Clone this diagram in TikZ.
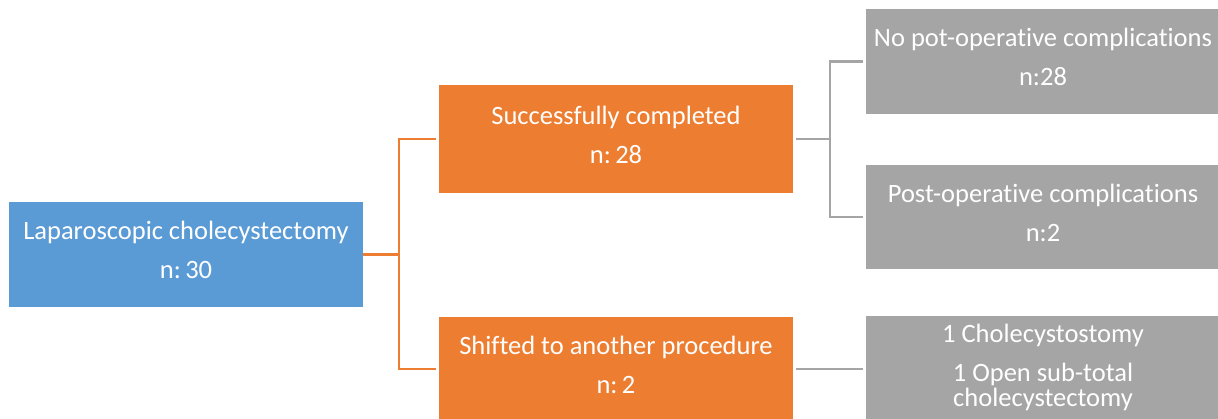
\documentclass[tikz,border=0pt]{standalone}
\usepackage{fontspec}
\setmainfont{Carlito}[Ligatures={NoCommon,NoRare}]
\definecolor{lapblue}{HTML}{5B9BD5}
\definecolor{outorange}{HTML}{ED7D31}
\definecolor{detgray}{HTML}{A5A5A5}
\tikzset{
  box/.style={minimum width=354pt,inner sep=0pt,text=white,align=center,
    text depth=9pt,font=\fontsize{26.5}{39}\selectfont},
  orangeline/.style={draw=outorange,line width=2.5pt},
  grayline/.style={draw=detgray,line width=2.5pt}
}
\begin{document}
\begin{tikzpicture}[x=1pt,y=-1pt]
\useasboundingbox (0,0) rectangle (1218,419);
%Root
\node[box,fill=lapblue,minimum height=105pt] (lap) at (186,254.5)
  {Laparoscopic cholecystectomy\\n:\,30};

%Outcomes
\node[box,fill=outorange,minimum height=108pt] (succ) at (616,139)
  {Successfully completed\\n:\,28};
\node[box,fill=outorange,minimum height=104pt] (shift) at (616,369)
  {Shifted to another procedure\\n:\,2};

\coordinate (split1) at (399,254.5);
\draw[orangeline] (lap.east) -- (split1);
\draw[orangeline,shorten >=3pt] (split1) |- (succ.west);
\draw[orangeline,shorten >=3pt] (split1) |- (shift.west);

%Details
\node[box,fill=detgray,minimum height=105pt] (nopot) at (1043,61.5)
  {No pot-operative complications\\n:28};
\node[box,fill=detgray,minimum height=104pt] (post) at (1043,217)
  {Post-operative complications\\n:2};
\node[box,fill=detgray,minimum height=106pt,text depth=8pt,
  font=\fontsize{26.5}{25}\selectfont] (other) at (1043,369)
  {1 Cholecystostomy\\[14pt]1 Open sub-total\\cholecystectomy};

\coordinate (split2) at (830,139);
\draw[grayline,shorten <=3pt] (succ.east) -- (split2);
\draw[grayline,shorten >=3pt] (split2) |- (nopot.west);
\draw[grayline,shorten >=3pt] (split2) |- (post.west);
\draw[grayline,shorten <=3pt,shorten >=3pt] (shift.east) -- (other.west);
\end{tikzpicture}
\end{document}
